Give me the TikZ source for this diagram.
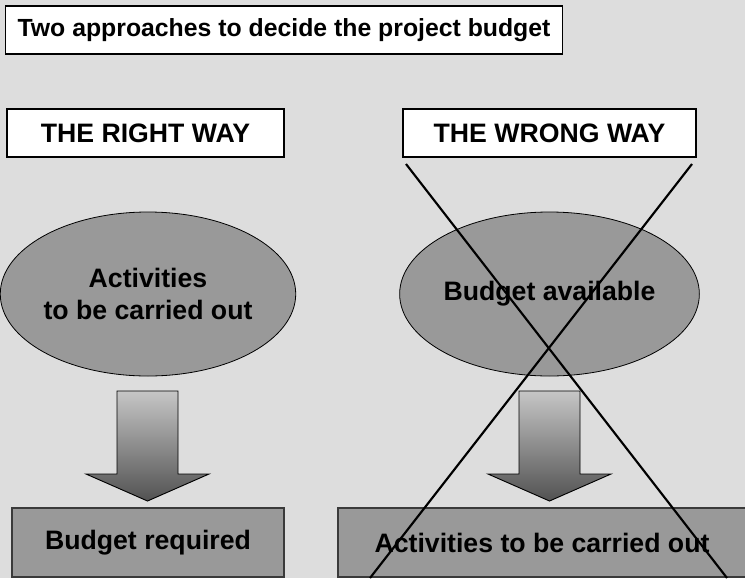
\documentclass[tikz,border=0pt]{standalone}
\usepackage{fontspec}
\setmainfont{Liberation Sans}
\usetikzlibrary{shapes.geometric}
\definecolor{pagegray}{HTML}{DDDDDD}
\definecolor{blobgray}{HTML}{999999}
\definecolor{arrowlight}{HTML}{C6C6C6}
\definecolor{arrowdark}{HTML}{525252}
\definecolor{boxedge}{HTML}{3A3A3A}

\begin{document}
\begin{tikzpicture}
	[x=0.75pt,y=-0.75pt,
	bigfont/.style={font=\bfseries\fontsize{20}{24}\selectfont},
	titlebox/.style={draw,fill=white,line width=0.8pt,anchor=west,
		minimum height=36pt,minimum width=417.75pt,inner sep=0pt,
		font=\bfseries\fontsize{18.6}{22}\selectfont},
	waybox/.style={draw,fill=white,line width=0.8pt,minimum width=#1,
		minimum height=36pt,inner sep=0pt,bigfont},
	blob/.style={ellipse,draw,fill=blobgray,line width=0.6pt,minimum width=214.5pt,
		minimum height=123pt,inner sep=0pt,align=center,bigfont},
	resultbox/.style={draw=boxedge,fill=blobgray,line width=0.8pt,minimum width=#1,
		minimum height=51.75pt,inner sep=0pt,bigfont},
	downarrow/.style={top color=arrowlight,bottom color=arrowdark,draw,line width=0.7pt},
	crossline/.style={line width=1.6pt}]
	% page
	\useasboundingbox[fill=pagegray] (0,0) rectangle (745,578);
	% headings
	\node[titlebox] (title) at (5,30) {Two approaches to decide the project budget};
	\node[waybox=207.75pt] (right) at (145.5,133) {THE RIGHT WAY};
	\node[waybox=219.75pt] (wrong) at (549.5,133) {THE WRONG WAY};
	% starting points
	\node[blob] (activities) at (148,294) {Activities\\to be carried out};
	\node[blob] (available) at (549.5,294) {Budget available};
	% block arrows
	\foreach \cx in {147.5,549.5}
		\shadedraw[downarrow] (\cx-30.5,391) -- (\cx+30.5,391) -- (\cx+30.5,474)
			-- (\cx+61.5,474) -- (\cx,501) -- (\cx-61.5,474) -- (\cx-30.5,474) -- cycle;
	% outcomes
	\node[resultbox=204pt] (required) at (148,542.5) {Budget required};
	\node[resultbox=306pt] (carried) at (542,542.5) {Activities to be carried out};
	% crossing out the wrong way
	\coordinate (crossNW) at (406,164);
	\coordinate (crossNE) at (692,164);
	\coordinate (crossSW) at (370,578);
	\coordinate (crossSE) at (727,578);
	\draw[crossline] (crossNW) -- (crossSE);
	\draw[crossline] (crossNE) -- (crossSW);
\end{tikzpicture}
\end{document}
